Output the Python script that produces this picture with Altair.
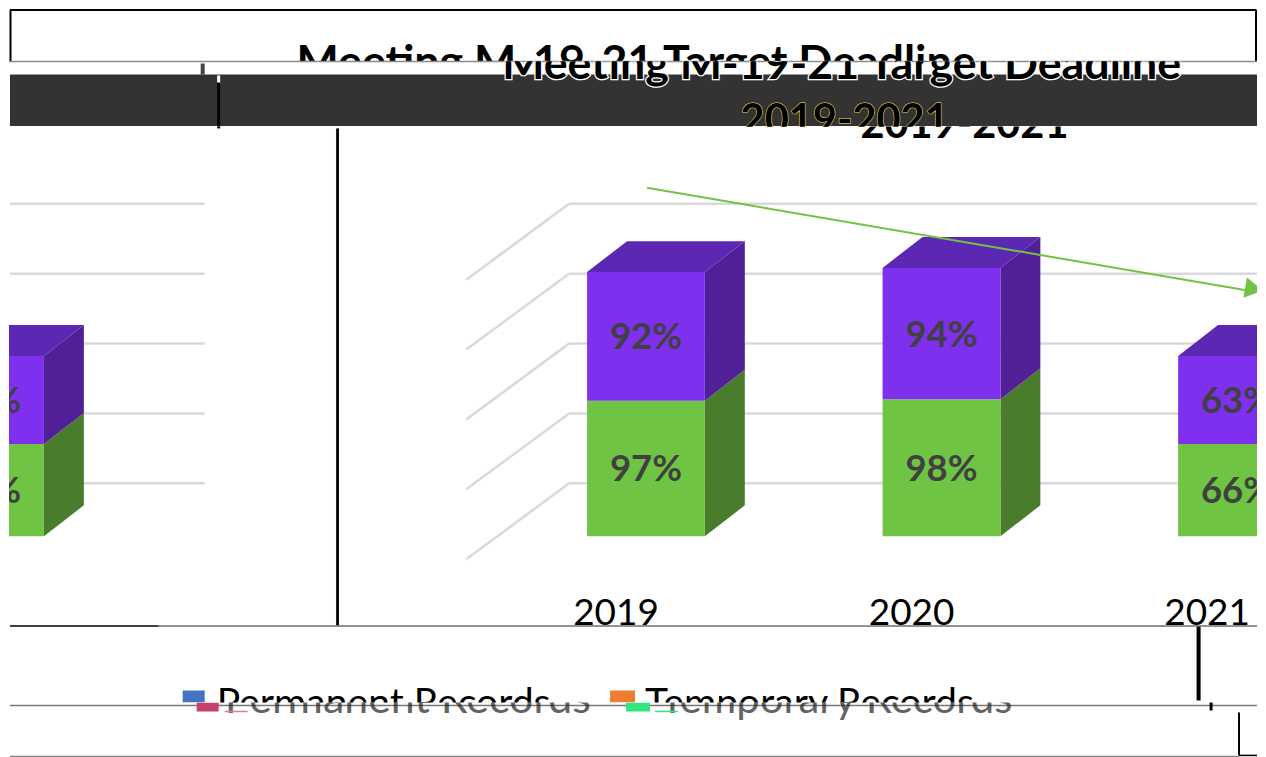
import altair as alt
import pandas as pd

# ---- values
YEARS = ["2019", "2020", "2021"]
TEMPORARY = [97, 98, 66]
PERMANENT = [92, 94, 63]
LEFT_TEMPORARY = [66]
LEFT_PERMANENT = [63]
GRID_TICKS = [0, 50, 100, 150, 200]
TITLE = "Meeting M-19-21 Target Deadline"
SUBTITLE = "2019-2021"
LEGEND = ["Permanent Records", "Temporary Records"]

FONT = "Lato"
GREEN, GREEN_SIDE = "#70c443", "#4a7c2d"
PURPLE, PURPLE_SIDE, PURPLE_TOP = "#7f30ee", "#511f96", "#5c27b3"
LABEL = "#404040"
W = 1250
ONE = alt.Data(values=[{}])

# panel tops in page pixels (slices of the picture stacked without gaps)
T = [8, 60, 125, 625, 702, 757]
PX_PER_CAT, PX_PER_PCT = 296.0, 1.4
X0_ABS, BASE_ABS = 646.0, 535.5


def ux(px):
    return (px - X0_ABS) / PX_PER_CAT


def uy(px):
    return (BASE_ABS - px) / PX_PER_PCT


H3 = T[3] - T[2]
xs = alt.Scale(domain=[ux(8), ux(8 + W)], nice=False, zero=False)
ys = alt.Scale(domain=[uy(T[3]), uy(T[2])], nice=False, zero=False)


def hline(y, x1=0, x2=W, color="#808080", w=1.5):
    return alt.Chart(ONE).mark_rule(color=color, strokeWidth=w).encode(
        x=alt.value(x1), x2=alt.value(x2), y=alt.value(y))


def vline(x, y1, y2, color="#000000", w=3):
    return alt.Chart(ONE).mark_rule(color=color, strokeWidth=w).encode(
        x=alt.value(x), y=alt.value(y1), y2=alt.value(y2))


def box(x1, x2, y1, y2, color):
    return alt.Chart(ONE).mark_rect(color=color, clip=True).encode(
        x=alt.value(x1), x2=alt.value(x2), y=alt.value(y1), y2=alt.value(y2))


def txt(s, x, y, size, color="#000000", weight="normal", align="center", **kw):
    return alt.Chart(ONE).mark_text(
        font=FONT, fontSize=size, fontWeight=weight, color=color, align=align,
        baseline="alphabetic", clip=True, **kw
    ).encode(x=alt.value(x), y=alt.value(y), text=alt.value(s))


def panel(h, *layers):
    return alt.layer(*layers).properties(width=W, height=h)


# ---- geometry of the stacked blocks, from the values
positions = [0, 1, 2]
left_pos = [ux(-16)]
half, dx, dy = 59 / PX_PER_CAT, 40 / PX_PER_CAT, 31 / PX_PER_PCT
front, side, top, labels = [], [], [], []
series = list(zip(positions + left_pos, TEMPORARY + LEFT_TEMPORARY, PERMANENT + LEFT_PERMANENT))
for i, (p, t, q) in enumerate(series):
    for name, y0, y1, c, cs in (("t", 0, t, GREEN, GREEN_SIDE), ("p", t, t + q, PURPLE, PURPLE_SIDE)):
        key = f"{i}{name}"
        front.append(dict(x=p - half, x2=p + half, y=y0, y2=y1, fill=c))
        side.append(dict(k=key, fill=cs, x=p + half, y=y0, y2=y1))
        side.append(dict(k=key, fill=cs, x=p + half + dx, y=y0 + dy, y2=y1 + dy))
        labels.append(dict(x=p, y=(y0 + y1) / 2, text=f"{y1 - y0}%"))
    top.append(dict(k=str(i), y=t + q, x=p - half, x2=p + half))
    top.append(dict(k=str(i), y=t + q + dy, x=p - half + dx, x2=p + half + dx))

front, side, top, labels = map(pd.DataFrame, (front, side, top, labels))
fill = alt.Color("fill:N", scale=None)

lift = uy(482.5)
wall = pd.DataFrame({"v": [g + lift for g in GRID_TICKS]})
floor = wall.copy()
floor["v2"] = floor["v"] - 76 / PX_PER_PCT
floor["x"], floor["x2"] = ux(569), ux(466)
wall_r = wall.assign(x=ux(569), x2=ux(8 + W))
wall_l = wall.assign(x=ux(9), x2=ux(204))

GRID = dict(color="#d9d9d9", strokeWidth=2.5, clip=True)
XE = alt.X("x:Q", scale=xs, axis=None)
YE = alt.Y("y:Q", scale=ys, axis=None)
YV = alt.Y("v:Q", scale=ys, axis=None)


def grid(df):
    return alt.Chart(df).mark_rule(**GRID).encode(x=XE, x2="x2:Q", y=YV)


g_floor = alt.Chart(floor).mark_rule(**GRID).encode(x=XE, x2="x2:Q", y=YV, y2="v2:Q")
front_m = alt.Chart(front).mark_rect(clip=True).encode(x=XE, x2="x2:Q", y=YE, y2="y2:Q", color=fill)
side_m = alt.Chart(side).mark_area(clip=True).encode(x=XE, y=YE, y2="y2:Q", color=fill, detail="k:N")
top_m = alt.Chart(top).mark_area(clip=True, orient="horizontal", color=PURPLE_TOP).encode(
    y=YE, x=XE, x2="x2:Q", detail="k:N")
label_m = alt.Chart(labels).mark_text(
    font=FONT, fontSize=36.5, fontWeight="bold", color=LABEL, clip=True, baseline="middle", dy=2
).encode(x=XE, y=YE, text="text:N")
year_df = pd.DataFrame({"x": [p - 30 / PX_PER_CAT for p in positions], "year": YEARS})
year_m = alt.Chart(year_df).mark_text(
    font=FONT, fontSize=37, color="#000000", clip=True, baseline="alphabetic"
).encode(x=XE, y=alt.value(H3 - 1), text="year:N")

arrow_c = "#70c443"
arrow = alt.Chart(ONE).mark_rule(color=arrow_c, strokeWidth=2).encode(
    x=alt.value(647 - 8), x2=alt.value(1250 - 8), y=alt.value(186.5 - T[2]), y2=alt.value(289.5 - T[2]))
head = alt.Chart(ONE).mark_point(
    shape="triangle-right", filled=True, size=430, color=arrow_c, opacity=1, angle=10, clip=True
).encode(x=alt.value(1255 - 8), y=alt.value(288 - T[2]))

# ---- slices
p1 = panel(
    T[1] - T[0],
    txt(TITLE, 636 - 8, 76 - T[0], 44.8, weight="bold"),
    hline(0.5, 1, 1249, "#000000", 2),
    vline(1.5, 0, 52, "#000000", 2),
    vline(1249, 0, 52, "#000000", 2),
)
p2 = panel(
    T[2] - T[1],
    hline(0, 0, W, "#8c8c8c", 1.5),
    box(192, 196, 2, 13, "#444444"),
    box(1, W, 13, 64.5, "#333333"),
    vline(210, 21, 65, "#000000", 3),
    box(208.5, 211.5, 14, 21, "#ffffff"),
    txt(TITLE, 842 - 8, 78 - T[1], 44.8, weight="bold", stroke="#ffffff", strokeWidth=2.5),
    txt(TITLE, 842 - 8, 78 - T[1], 44.8, weight="bold"),
    txt(SUBTITLE, 845 - 8, 133 - T[1], 41.6, weight="bold", stroke="#ffe95a", strokeWidth=1),
    txt(SUBTITLE, 845 - 8, 133 - T[1], 41.6, weight="bold"),
)
p3 = panel(
    H3,
    grid(wall_l), grid(wall_r), g_floor,
    vline(210, 0, 2, "#000000", 3),
    vline(328, 2, H3, "#ffe600", 1),
    vline(330, 2, H3, "#2a2ad0", 1),
    vline(329, 2, H3, "#000000", 2.6),
    side_m, front_m, top_m, label_m, year_m,
    txt(SUBTITLE, 965 - 8, 137 - T[2], 41.6, weight="bold"),
    arrow, head,
)

sq = dict(y1=690 - T[3], y2=T[4] - T[3])
p4 = panel(
    T[4] - T[3],
    hline(0.5, 1, 150, "#000000", 1.5),
    hline(0.5, 150, W, "#6e6e6e", 1.5),
    box(174, 196, sq["y1"], sq["y2"], "#4472c4"),
    box(602, 627, sq["y1"], sq["y2"], "#ed7d31"),
    txt(LEGEND[0], 216 - 8, 716 - T[3], 39.2, align="left"),
    txt(LEGEND[1], 645 - 8, 716 - T[3], 39.2, align="left"),
    vline(1191.5, 1, 75, "#000000", 4),
)
p5 = panel(
    T[5] - T[4],
    hline(3, 1, W, "#777777", 1.5),
    txt(LEGEND[0], 224 - 8, 713 - T[4], 43, color="#222222", align="left", opacity=0.7),
    txt(LEGEND[1], 660 - 8, 713 - T[4], 42, color="#222222", align="left", opacity=0.7),
    box(188, 210, 0, 9, "#c8406f"),
    box(618, 642, 0, 9, "#33e57f"),
    hline(9, 216, 239, "#e8789c", 1.5),
    hline(9, 647, 670, "#33e57f", 1.5),
    vline(1204, 0, 8, "#000000", 3),
    vline(1232, 10, 53, "#000000", 2),
    hline(53, 1232, W, "#000000", 1.5),
    hline(54, 1, 1232, "#808080", 1.5),
)

chart = alt.vconcat(p1, p2, p3, p4, p5, spacing=0, padding=0, bounds="flush", background="white").configure_view(
    stroke=None
)

chart.save("out.html", embed_options={"renderer": "svg", "actions": False})
